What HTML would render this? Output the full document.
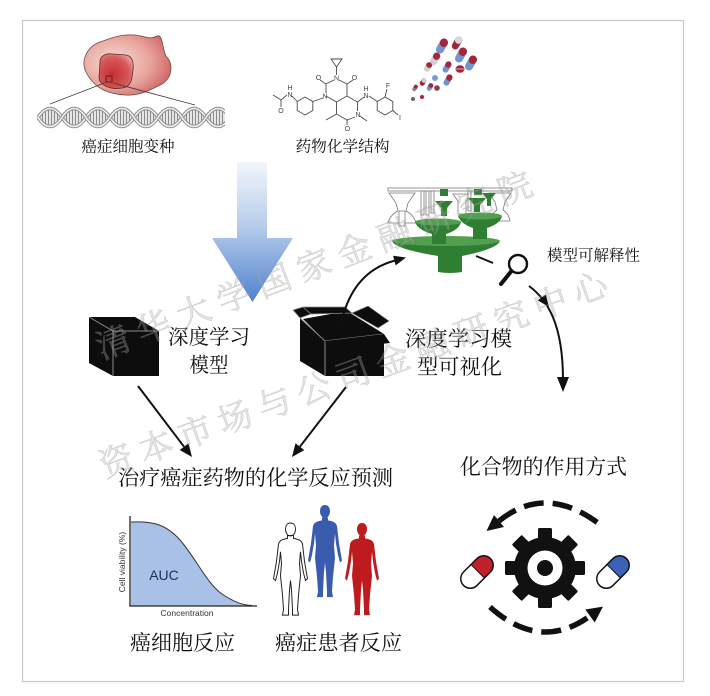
<!DOCTYPE html>
<html><head><meta charset="utf-8"><style>
html,body{margin:0;padding:0;background:#fff;}
svg{display:block;}
.cj{font-family:"Liberation Serif","Noto Serif CJK SC",serif;fill:#111;}
.lat{font-family:"Liberation Sans",sans-serif;}
</style></head><body>
<svg width="710" height="696" viewBox="0 0 710 696" xmlns="http://www.w3.org/2000/svg">
<defs>
<linearGradient id="blueArr" x1="0" y1="162" x2="0" y2="302" gradientUnits="userSpaceOnUse">
<stop offset="0" stop-color="#f3f6fc"/><stop offset="0.45" stop-color="#b8cdeb"/><stop offset="1" stop-color="#4f82cf"/></linearGradient>
<radialGradient id="cellG" cx="0.35" cy="0.45" r="0.7"><stop offset="0" stop-color="#f7ddd6"/><stop offset="0.6" stop-color="#e7a39b"/><stop offset="1" stop-color="#cf6161"/></radialGradient>
<radialGradient id="nucG" cx="0.4" cy="0.6" r="0.7"><stop offset="0" stop-color="#c42f30"/><stop offset="0.7" stop-color="#d75a5a"/><stop offset="1" stop-color="#eaa0a0"/></radialGradient>
<clipPath id="dnaClip"><path clip-rule="evenodd" d="M38,117.5 Q50,99.5 62,117.5 Q50,135.5 38,117.5Z M62,117.5 Q74,99.5 86,117.5 Q74,135.5 62,117.5Z M86,117.5 Q98,99.5 110,117.5 Q98,135.5 86,117.5Z M110,117.5 Q122,99.5 134,117.5 Q122,135.5 110,117.5Z M134,117.5 Q146,99.5 158,117.5 Q146,135.5 134,117.5Z M158,117.5 Q170,99.5 182,117.5 Q170,135.5 158,117.5Z M182,117.5 Q194,99.5 206,117.5 Q194,135.5 182,117.5Z M206,117.5 Q218,99.5 230,117.5 Q218,135.5 206,117.5Z"/></clipPath>
<pattern id="rungs" width="3" height="4" patternUnits="userSpaceOnUse"><rect width="3" height="4" fill="#e6e6e6"/><rect width="1" height="4" fill="#8a8a8a"/></pattern>
<clipPath id="dnaEnd"><rect x="36" y="95" width="189" height="40"/></clipPath>
<path id="human" d="M0,13 L3,13 L3,16 C8,17 11,18 12,22 L14,40 L17,58 L15,60 L13,52 L11,40 L10,30 L9,42 L10,55 L8,75 L7,90 L8,96 L2,96 L2,90 L1,70 L0,60 L-1,70 L-2,90 L-2,96 L-8,96 L-7,90 L-8,75 L-10,55 L-9,42 L-10,30 L-11,40 L-13,52 L-15,60 L-17,58 L-14,40 L-12,22 C-11,18 -8,17 -3,16 L-3,13 Z M0,0 C3.5,0 5,3 5,6.5 C5,10 3,13.5 0,13.5 C-3,13.5 -5,10 -5,6.5 C-5,3 -3.5,0 0,0 Z"/>
</defs>

<rect x="0" y="0" width="710" height="696" fill="#fff"/>
<rect x="22.5" y="20.5" width="661" height="661" fill="#fff" stroke="#c9c9c9" stroke-width="1.2"/>

<!-- Cell -->
<path d="M86,72 C80,60 88,46 100,42 C112,38 120,34 135,35 C145,36 150,40 157,36 C163,34 162,48 166,56 C174,64 172,78 162,84 C150,90 140,96 125,95 C110,94 95,90 86,72 Z" fill="url(#cellG)" stroke="#6b4a4a" stroke-width="0.8"/>
<path d="M100,62 C100,56 106,53 113,54 L126,55 C132,56 134,62 133,70 C132,80 131,87 122,88 C112,90 100,86 99,78 Z" fill="url(#nucG)" stroke="#5a2a2a" stroke-width="0.8"/>
<rect x="106" y="76" width="6" height="6" fill="none" stroke="#4a1a1a" stroke-width="0.8"/>
<line x1="107" y1="82" x2="50" y2="104" stroke="#444" stroke-width="0.9"/>
<line x1="113" y1="83" x2="195" y2="105" stroke="#444" stroke-width="0.9"/>
<!-- DNA -->
<g clip-path="url(#dnaEnd)">
<rect x="38" y="100" width="190" height="36" fill="url(#rungs)" clip-path="url(#dnaClip)"/>
<path d="M38,117.5 Q50,99.5 62,117.5 T86,117.5 T110,117.5 T134,117.5 T158,117.5 T182,117.5 T206,117.5 T230,117.5" fill="none" stroke="#8a8a8a" stroke-width="3.6"/>
<path d="M38,117.5 Q50,99.5 62,117.5 T86,117.5 T110,117.5 T134,117.5 T158,117.5 T182,117.5 T206,117.5 T230,117.5" fill="none" stroke="#f2f2f2" stroke-width="1.6"/>
<path d="M38,117.5 Q50,135.5 62,117.5 T86,117.5 T110,117.5 T134,117.5 T158,117.5 T182,117.5 T206,117.5 T230,117.5" fill="none" stroke="#8a8a8a" stroke-width="3.6"/>
<path d="M38,117.5 Q50,135.5 62,117.5 T86,117.5 T110,117.5 T134,117.5 T158,117.5 T182,117.5 T206,117.5 T230,117.5" fill="none" stroke="#f2f2f2" stroke-width="1.6"/>
</g>
<text class="cj" x="128" y="147" font-size="15.5" text-anchor="middle" dominant-baseline="central" textLength="93" lengthAdjust="spacingAndGlyphs">癌症细胞变种</text>

<!-- Chemical structure -->
<g stroke="#4a4a4a" stroke-width="0.9" fill="none">
<polygon points="331,59 342,59 336.5,67"/>
<line x1="336.5" y1="67" x2="336.5" y2="75"/>
<polyline points="339,80 347,84 347,96 336.5,102 326,96"/>
<polyline points="334,80 326,84 326,93"/>
<line x1="347" y1="84" x2="353" y2="80"/>
<line x1="326" y1="84" x2="320" y2="80"/>
<polyline points="347,96 357.5,102 357.5,111"/>
<polyline points="355,117 347,120 336.5,114 336.5,102"/>
<line x1="347" y1="120" x2="347" y2="125"/>
<line x1="336.5" y1="114" x2="326" y2="120"/>
<line x1="360" y1="116" x2="367" y2="121"/>
<line x1="357.5" y1="102" x2="364" y2="97"/>
<line x1="369" y1="96" x2="377.2" y2="101.5"/>
<polygon points="385,97 392.8,101.5 392.8,110.5 385,115 377.2,110.5 377.2,101.5"/>
<line x1="385" y1="97" x2="387" y2="89"/>
<line x1="392.8" y1="110.5" x2="398" y2="115"/>
<line x1="323" y1="98" x2="312.8" y2="101.5"/>
<polygon points="305,97 312.8,101.5 312.8,110.5 305,115 297.2,110.5 297.2,101.5"/>
<line x1="297.2" y1="101.5" x2="292" y2="96"/>
<polyline points="287,95 281,100 273,95"/>
<line x1="281" y1="100" x2="281" y2="107"/>
</g>
<g font-family="Liberation Sans, sans-serif" font-size="7" fill="#444" text-anchor="middle">
<text x="336.5" y="80.5">N</text><text x="354.5" y="80">O</text><text x="318.5" y="80">O</text>
<text x="325" y="98.5">N</text><text x="358" y="117">N</text><text x="347.5" y="131">O</text>
<text x="366" y="98">N</text><text x="366" y="91">H</text><text x="388" y="88">F</text><text x="400" y="120">I</text>
<text x="290" y="97">N</text><text x="290" y="90">H</text><text x="281" y="113">O</text>
</g>
<text class="cj" x="342.5" y="147" font-size="15.5" text-anchor="middle" dominant-baseline="central" textLength="94" lengthAdjust="spacingAndGlyphs">药物化学结构</text>

<!-- Pills cluster -->
<g>
<g transform="translate(442,46) rotate(30)"><rect x="-4" y="-8" width="8" height="16" rx="4" fill="#6f95cc"/><rect x="-4" y="-8" width="8" height="8.5" rx="4" fill="#a3263a"/></g>
<g transform="translate(457,43) rotate(30)"><rect x="-3.5" y="-7" width="7" height="14" rx="3.5" fill="#a3263a"/><rect x="-3.5" y="-7" width="7" height="7.5" rx="3.5" fill="#d8d8d8"/></g>
<g transform="translate(435,59) rotate(30)"><rect x="-3.5" y="-7" width="7" height="14" rx="3.5" fill="#d0d0d0"/><rect x="-3.5" y="-7" width="7" height="7.5" rx="3.5" fill="#a3263a"/></g>
<g transform="translate(461,55) rotate(30)"><rect x="-4" y="-8" width="8" height="16" rx="4" fill="#6f95cc"/><rect x="-4" y="-8" width="8" height="8.5" rx="4" fill="#a3263a"/></g>
<g transform="translate(471,63) rotate(30)"><rect x="-4" y="-8" width="8" height="16" rx="4" fill="#6f95cc"/><rect x="-4" y="-8" width="8" height="8.5" rx="4" fill="#a3263a"/></g>
<g transform="translate(447,67) rotate(30)"><rect x="-3" y="-6" width="6" height="12" rx="3" fill="#6f95cc"/><rect x="-3" y="-6" width="6" height="6.5" rx="3" fill="#a3263a"/></g>
<g transform="translate(428,67) rotate(30)"><rect x="-3" y="-5" width="6" height="10" rx="3" fill="#d0d0d0"/><rect x="-3" y="-5" width="6" height="5.5" rx="3" fill="#a3263a"/></g>
<ellipse cx="460" cy="69" rx="4.5" ry="3.8" fill="#a3263a"/><line x1="456" y1="69" x2="464" y2="69" stroke="#e6c0c0" stroke-width="0.8"/>
<circle cx="435" cy="78" r="3" fill="#7a9bd0"/>
<g transform="translate(448,80) rotate(30)"><rect x="-3" y="-6" width="6" height="12" rx="3" fill="#6f95cc"/><rect x="-3" y="-6" width="6" height="6.5" rx="3" fill="#a3263a"/></g>
<g transform="translate(423,82) rotate(30)"><rect x="-2.5" y="-4" width="5" height="8" rx="2.5" fill="#a3263a"/><rect x="-2.5" y="-4" width="5" height="4.5" rx="2.5" fill="#d0d0d0"/></g>
<g transform="translate(430,87) rotate(30)"><rect x="-2.5" y="-4" width="5" height="8" rx="2.5" fill="#6f95cc"/><rect x="-2.5" y="-4" width="5" height="4.5" rx="2.5" fill="#a3263a"/></g>
<g transform="translate(415,88) rotate(30)"><rect x="-2" y="-3.5" width="4" height="7" rx="2" fill="#888"/><rect x="-2" y="-3.5" width="4" height="4" rx="2" fill="#a3263a"/></g>
<circle cx="437" cy="88" r="2.8" fill="#8a3a48"/>
<circle cx="422" cy="97" r="2" fill="#a3263a"/>
<circle cx="413" cy="99" r="2" fill="#666"/>
</g>

<!-- Big blue arrow -->
<polygon points="237,162 267,162 267,238 293,238 252.5,302 212,238 237,238" fill="url(#blueArr)"/>

<!-- Left cube -->
<polygon points="89,317 135,317 159,331 159,376 113,376 89,363" fill="#0d0d0d"/>
<polyline points="89,317 113,331 159,331" fill="none" stroke="#8a8a8a" stroke-width="1"/>
<line x1="113" y1="331" x2="113" y2="376" stroke="#8a8a8a" stroke-width="1"/>
<text class="cj" x="209" y="338" font-size="20.5" text-anchor="middle" dominant-baseline="central" textLength="82" lengthAdjust="spacingAndGlyphs">深度学习</text>
<text class="cj" x="209" y="366" font-size="20.5" text-anchor="middle" dominant-baseline="central" textLength="39" lengthAdjust="spacingAndGlyphs">模型</text>

<!-- Open box -->
<polygon points="303,319 347,311 384,334 325,341" fill="#0d0d0d"/>
<polygon points="300,318 325,341 325,376 300,361" fill="#0d0d0d"/>
<polygon points="325,341 384,334 384,376 325,376" fill="#0d0d0d"/>
<polygon points="300,318 293,310 303,307 311,314" fill="#0d0d0d" stroke="#8a8a8a" stroke-width="0.7"/>
<polygon points="303,307 345,307 352,313 311,314" fill="#0d0d0d" stroke="#8a8a8a" stroke-width="0.7"/>
<polygon points="352,313 368,306 389,321 378,328" fill="#0d0d0d" stroke="#8a8a8a" stroke-width="0.7"/>
<polyline points="300,318 325,341 384,334" fill="none" stroke="#8a8a8a" stroke-width="0.9"/>
<line x1="325" y1="341" x2="325" y2="376" stroke="#8a8a8a" stroke-width="1"/>
<polygon points="325,341 384,334 390,343 330,350" fill="#0d0d0d"/>

<text class="cj" x="458.5" y="339" font-size="21" text-anchor="middle" dominant-baseline="central" textLength="107" lengthAdjust="spacingAndGlyphs">深度学习模</text>
<text class="cj" x="459.5" y="367" font-size="21" text-anchor="middle" dominant-baseline="central" textLength="85" lengthAdjust="spacingAndGlyphs">型可视化</text>

<!-- Green tree -->
<g stroke="#7a7a7a" stroke-width="0.8" fill="#fff">
<rect x="388" y="188" width="124" height="3"/>
<path d="M389,193 L415,193 L408,203 L406,211 Q414,215 416,223 L388,223 Q390,215 398,211 L396,203 Z"/>
<rect x="421" y="191" width="3" height="24"/><rect x="426" y="191" width="3" height="24"/><rect x="431" y="191" width="3" height="22"/>
<path d="M453,194 L471,194 L466,201 L466,214 L458,214 L458,201 Z"/>
<path d="M489,193 L511,193 L505,202 L503,210 Q509,214 510,221 L490,221 Q491,214 497,210 L495,202 Z"/>
<rect x="468" y="191" width="3" height="20"/>
<path d="M399,211 L405,211 L405,226 L399,226 Z"/>
</g>
<g fill="#2f7f33">
<path d="M392,241 Q395,249 438,256 L438,272 Q450,274 462,272 L462,256 Q497,249 500,241 Z"/>
<ellipse cx="446" cy="241" rx="54" ry="5" fill="#519f4f"/>
<path d="M415,222 Q418,230 432,234 L432,244 L446,244 L446,234 Q459,230 461,222 Z"/>
<ellipse cx="438" cy="222" rx="23" ry="3.5" fill="#519f4f"/>
<path d="M458,216 Q461,224 473,228 L473,239 L487,239 L487,228 Q500,224 502,216 Z"/>
<ellipse cx="480" cy="216" rx="22" ry="3.5" fill="#519f4f"/>
<path d="M435,201 L453,201 L447,208 L447,216 L441,216 L441,208 Z"/>
<path d="M468,198 L486,198 L480,205 L480,212 L474,212 L474,205 Z"/>
<path d="M482,193 L496,193 L491,199 L491,206 L487,206 L487,199 Z"/>
<rect x="440" y="189" width="8" height="7"/>
<rect x="474" y="189" width="8" height="6"/>
</g>

<!-- Magnifier + label -->
<circle cx="518" cy="264" r="9" fill="#fff" stroke="#111" stroke-width="2.4"/>
<line x1="511.5" y1="271" x2="501" y2="284" stroke="#111" stroke-width="4" stroke-linecap="round"/>
<text class="cj" x="593.5" y="256" font-size="15.5" text-anchor="middle" dominant-baseline="central" textLength="93" lengthAdjust="spacingAndGlyphs">模型可解释性</text>

<!-- Curved arrows -->
<g stroke="#111" stroke-width="2" fill="none">
<path d="M341,324 Q352,272 395,260.5"/>
<line x1="476" y1="256" x2="493" y2="263"/>
<path d="M529,286 C548,300 563,325 563,380"/>
<line x1="138" y1="386" x2="184" y2="446.7"/>
<line x1="346" y1="387" x2="299.9" y2="446.7"/>
</g>
<g fill="#111">
<polygon points="406,257.5 395.7,265.4 393.1,255.8"/>
<polygon points="563,392 557,377 569,377"/>
<polygon points="549,307 545.8,294.4 537.8,300.4"/>
<polygon points="192,457 188.5,443.4 179.7,450"/>
<polygon points="292,457 304.3,450.1 295.5,443.3"/>
</g>

<text class="cj" x="255.5" y="478" font-size="21" text-anchor="middle" dominant-baseline="central" textLength="275" lengthAdjust="spacingAndGlyphs">治疗癌症药物的化学反应预测</text>
<text class="cj" x="543.5" y="467" font-size="21" text-anchor="middle" dominant-baseline="central" textLength="167" lengthAdjust="spacingAndGlyphs">化合物的作用方式</text>

<!-- Chart -->
<path d="M131,522 C150,521 165,523 180,540 C195,557 208,585 222,594 C234,602 242,605 252,605.5 L131,605.5 Z" fill="#a9c1e7"/>
<path d="M131,522 C150,521 165,523 180,540 C195,557 208,585 222,594 C234,602 242,605 252,605.5" fill="none" stroke="#333" stroke-width="1"/>
<path d="M130,516 L130,606 L257,606" fill="none" stroke="#222" stroke-width="1.3"/>
<text class="lat" x="164" y="580" font-size="14" fill="#1c2e5c" text-anchor="middle">AUC</text>
<text class="lat" x="0" y="0" font-size="8.5" fill="#333" text-anchor="middle" transform="translate(125,562) rotate(-90)">Cell viability (%)</text>
<text class="lat" x="187" y="616" font-size="8.5" fill="#333" text-anchor="middle">Concentration</text>
<text class="cj" x="182.5" y="643" font-size="21" text-anchor="middle" dominant-baseline="central" textLength="105" lengthAdjust="spacingAndGlyphs">癌细胞反应</text>

<!-- Humans -->
<use href="#human" transform="translate(290.5,523) scale(1,0.96)" fill="#fff" stroke="#222" stroke-width="1"/>
<use href="#human" transform="translate(325,505) scale(1,0.96)" fill="#3a5cae"/>
<use href="#human" transform="translate(362,523) scale(1,0.96)" fill="#be1b1f"/>
<text class="cj" x="338.5" y="643" font-size="21" text-anchor="middle" dominant-baseline="central" textLength="127" lengthAdjust="spacingAndGlyphs">癌症患者反应</text>

<!-- Gear -->
<g transform="translate(545,568)" fill="#111">
<circle r="31"/>
<g id="tooth"><rect x="-7" y="-40" width="14" height="14" rx="1.5"/></g>
<use href="#tooth" transform="rotate(45)"/><use href="#tooth" transform="rotate(90)"/><use href="#tooth" transform="rotate(135)"/>
<use href="#tooth" transform="rotate(180)"/><use href="#tooth" transform="rotate(225)"/><use href="#tooth" transform="rotate(270)"/><use href="#tooth" transform="rotate(315)"/>
<circle r="17.5" fill="#fff"/>
<circle r="8" fill="#111"/>
</g>
<!-- Pills -->
<g transform="translate(477,572) rotate(-45)">
<rect x="-19" y="-9.5" width="38" height="19" rx="9.5" fill="#fff"/>
<path d="M1,-9.5 L9.5,-9.5 A9.5,9.5 0 0 1 9.5,9.5 L1,9.5 Z" fill="#c0202a"/>
<rect x="-19" y="-9.5" width="38" height="19" rx="9.5" fill="none" stroke="#111" stroke-width="1.5"/>
<line x1="1" y1="-9.5" x2="1" y2="9.5" stroke="#111" stroke-width="1"/>
</g>
<g transform="translate(613,572) rotate(-45)">
<rect x="-19" y="-9.5" width="38" height="19" rx="9.5" fill="#fff"/>
<path d="M1,-9.5 L9.5,-9.5 A9.5,9.5 0 0 1 9.5,9.5 L1,9.5 Z" fill="#3c62b6"/>
<rect x="-19" y="-9.5" width="38" height="19" rx="9.5" fill="none" stroke="#111" stroke-width="1.5"/>
<line x1="1" y1="-9.5" x2="1" y2="9.5" stroke="#111" stroke-width="1"/>
</g>
<!-- Dashed arcs -->
<path d="M499,521 Q545,484 598,523" fill="none" stroke="#111" stroke-width="5.5" stroke-dasharray="20 9"/>
<polygon points="486.5,531 504,527 494,515" fill="#111"/>
<path d="M490,607 Q540,652 590,616" fill="none" stroke="#111" stroke-width="5.5" stroke-dasharray="20 9"/>
<polygon points="603,606.6 594.7,622.5 585.3,609.5" fill="#111"/>

<!-- Watermark -->
<g font-family="Liberation Serif, Noto Serif CJK SC, serif" font-size="34" fill="rgba(170,170,170,0.32)" stroke="rgba(150,150,150,0.35)" stroke-width="0.6">
<text transform="translate(98,350) rotate(-21)" x="0" y="0" dominant-baseline="central" letter-spacing="9">清华大学国家金融研究院</text>
<text transform="translate(101,468) rotate(-20)" x="0" y="0" dominant-baseline="central" letter-spacing="8">资本市场与公司金融研究中心</text>
</g>
</svg>
</body></html>
